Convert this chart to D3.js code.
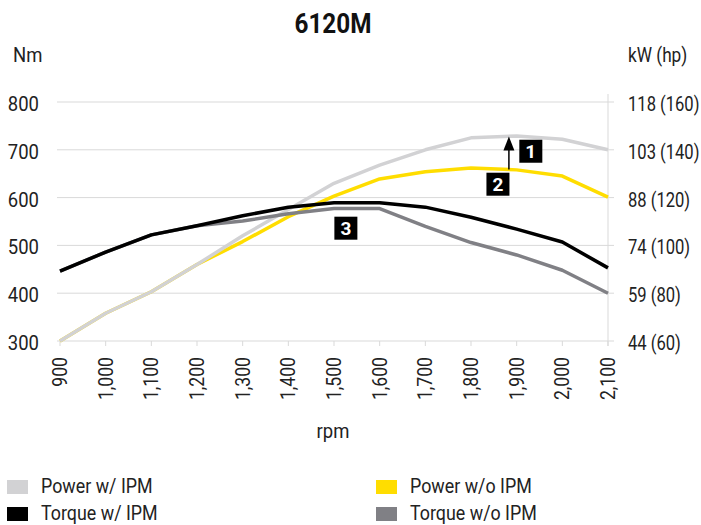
<!DOCTYPE html>
<html>
<head>
<meta charset="utf-8">
<script src="https://cdn.jsdelivr.net/npm/d3@7"></script>
<style>
  body { margin: 0; background: #fff; }
  text { font-family: Roboto, "DejaVu Sans", sans-serif; fill: #222; }
</style>
</head>
<body>
<div id="chart"></div>
<script>
// rpm categories
var rpm = [900, 1000, 1100, 1200, 1300, 1400, 1500, 1600, 1700, 1800, 1900, 2000, 2100];

// torque, Nm
var torqueIPM   = [446, 486, 522, 541, 562, 580, 589, 589, 580, 559, 534, 507, 453];
var torqueNoIPM = [446, 486, 522, 541, 551, 566, 577, 577, 540, 506, 480, 448, 400];

// power, hp
var powerIPM   = [60, 71.6, 80.6, 92, 104, 115, 126, 133.6, 140, 145, 145.8, 144.4, 140];
var powerNoIPM = [60, 71.6, 80.6, 92, 101.6, 112, 120.6, 127.8, 130.8, 132.4, 131.6, 129, 120.2];

// axis ticks
var nmTicks = [300, 400, 500, 600, 700, 800];
var hpTicks = [60, 80, 100, 120, 140, 160];
var kwTicks = [44, 59, 74, 88, 103, 118];

// numbered notes (rpm, Nm position)
var notes = [
  { label: "1", rpm: 1931, nm: 697 },
  { label: "2", rpm: 1859, nm: 628 },
  { label: "3", rpm: 1526, nm: 536 }
];
var arrowNote = { rpm: 1883, from: 131.8, to: 145.6 };

var width = 701, height = 525;
var plotL = 60, plotR = 608, plotT = 102, plotB = 341;
var fs = 21; // font size

var svg = d3.select("#chart").append("svg")
  .attr("width", width)
  .attr("height", height);

var x = d3.scaleLinear().domain([900, 2100]).range([plotL, plotR]);
var yNm = d3.scaleLinear().domain([300, 800]).range([plotB, plotT]);
var yHp = d3.scaleLinear().domain([60, 160]).range([plotB, plotT]);

// squeeze text horizontally to mimic the condensed face
function squeeze(k) {
  return function (sel) {
    sel.each(function () {
      var w = this.getComputedTextLength();
      d3.select(this)
        .attr("textLength", w * k)
        .attr("lengthAdjust", "spacingAndGlyphs");
    });
  };
}

// title
svg.append("text")
  .attr("x", 333).attr("y", 33)
  .attr("text-anchor", "middle")
  .style("font-size", "27px")
  .style("font-weight", "bold")
  .style("fill", "#111")
  .text("6120M")
  .call(squeeze(0.9));

svg.append("text").attr("x", 13).attr("y", 62).style("font-size", fs + "px").text("Nm").call(squeeze(0.88));
svg.append("text")
  .attr("transform", "translate(628,62) scale(0.82,1)")
  .style("font-size", fs + "px")
  .text("kW (hp)");

// gridlines
svg.append("g").selectAll("line")
  .data(nmTicks)
  .enter()
  .append("line")
  .attr("x1", plotL - 3)
  .attr("x2", plotR + 6)
  .attr("y1", function (d) { return yNm(d); })
  .attr("y2", function (d) { return yNm(d); })
  .attr("stroke", "#d9d9d9")
  .attr("stroke-width", 1);

// right axis line
svg.append("line")
  .attr("x1", plotR).attr("x2", plotR)
  .attr("y1", plotT - 8).attr("y2", plotB + 5)
  .attr("stroke", "#d9d9d9");

// left labels
svg.append("g").selectAll("text")
  .data(nmTicks)
  .enter()
  .append("text")
  .attr("x", 39)
  .attr("y", function (d) { return yNm(d) + 9; })
  .attr("text-anchor", "end")
  .style("font-size", fs + "px")
  .text(function (d) { return d; })
  .call(squeeze(0.88));

// right labels
svg.append("g").selectAll("text")
  .data(hpTicks)
  .enter()
  .append("text")
  .attr("transform", function (d) { return "translate(628," + (yHp(d) + 9) + ") scale(0.79,1)"; })
  .style("font-size", fs + "px")
  .text(function (d, i) { return kwTicks[i] + " (" + d + ")"; });

// x ticks + labels
var xg = svg.append("g");
xg.selectAll("line")
  .data(rpm)
  .enter()
  .append("line")
  .attr("x1", function (d) { return x(d); })
  .attr("x2", function (d) { return x(d); })
  .attr("y1", plotB)
  .attr("y2", plotB + 5)
  .attr("stroke", "#d9d9d9");

xg.selectAll("text")
  .data(rpm)
  .enter()
  .append("text")
  .attr("text-anchor", "end")
  .attr("transform", function (d) { return "translate(" + (x(d) + 7) + "," + (plotB + 16) + ") rotate(-90)"; })
  .style("font-size", "20px")
  .text(function (d) { return d3.format(",")(d); })
  .call(squeeze(0.88));

svg.append("text")
  .attr("x", 333).attr("y", 438)
  .attr("text-anchor", "middle")
  .style("font-size", fs + "px")
  .text("rpm")
  .call(squeeze(0.88));

// lines
var lineNm = d3.line()
  .x(function (d, i) { return x(rpm[i]); })
  .y(function (d) { return yNm(d); });
var lineHp = d3.line()
  .x(function (d, i) { return x(rpm[i]); })
  .y(function (d) { return yHp(d); });

// draw order: w/o IPM first so the w/ IPM lines sit on top where they coincide
var series = [
  { values: powerNoIPM, line: lineHp, color: "#ffdd00" },
  { values: powerIPM, line: lineHp, color: "#d2d2d4" },
  { values: torqueNoIPM, line: lineNm, color: "#808085" },
  { values: torqueIPM, line: lineNm, color: "#000000" }
];

svg.append("g").selectAll("path")
  .data(series)
  .enter()
  .append("path")
  .attr("d", function (d) { return d.line(d.values); })
  .attr("fill", "none")
  .attr("stroke", function (d) { return d.color; })
  .attr("stroke-width", 3.5)
  .attr("stroke-linejoin", "round");

// arrow
var ax = x(arrowNote.rpm), ayTip = yHp(arrowNote.to);
svg.append("line")
  .attr("x1", ax).attr("x2", ax)
  .attr("y1", yHp(arrowNote.from)).attr("y2", ayTip + 12)
  .attr("stroke", "#000")
  .attr("stroke-width", 1.5);
svg.append("path")
  .attr("d", "M" + (ax - 5.5) + "," + (ayTip + 14) + " L" + ax + "," + ayTip + " L" + (ax + 5.5) + "," + (ayTip + 14) + " Z")
  .attr("fill", "#000");

// note boxes
var ng = svg.append("g").selectAll("g")
  .data(notes)
  .enter()
  .append("g")
  .attr("transform", function (d) { return "translate(" + x(d.rpm) + "," + yNm(d.nm) + ")"; });
ng.append("rect")
  .attr("x", -11.5).attr("y", -11.5)
  .attr("width", 23).attr("height", 23)
  .attr("fill", "#000");
ng.append("text")
  .attr("y", 7)
  .attr("text-anchor", "middle")
  .style("font-size", "19px")
  .style("font-weight", "bold")
  .style("fill", "#fff")
  .text(function (d) { return d.label; });

// legend
var legend = [
  { name: "Power w/ IPM", color: "#d2d2d4", x: 7, y: 480 },
  { name: "Power w/o IPM", color: "#ffdd00", x: 376, y: 480 },
  { name: "Torque w/ IPM", color: "#000000", x: 7, y: 507 },
  { name: "Torque w/o IPM", color: "#808085", x: 376, y: 507 }
];
var lg = svg.append("g").selectAll("g")
  .data(legend)
  .enter()
  .append("g")
  .attr("transform", function (d) { return "translate(" + d.x + "," + d.y + ")"; });
lg.append("rect")
  .attr("width", 21).attr("height", 14)
  .attr("fill", function (d) { return d.color; });
lg.append("text")
  .attr("x", 34).attr("y", 13)
  .style("font-size", fs + "px")
  .text(function (d) { return d.name; })
  .call(squeeze(0.85));
</script>
</body>
</html>
